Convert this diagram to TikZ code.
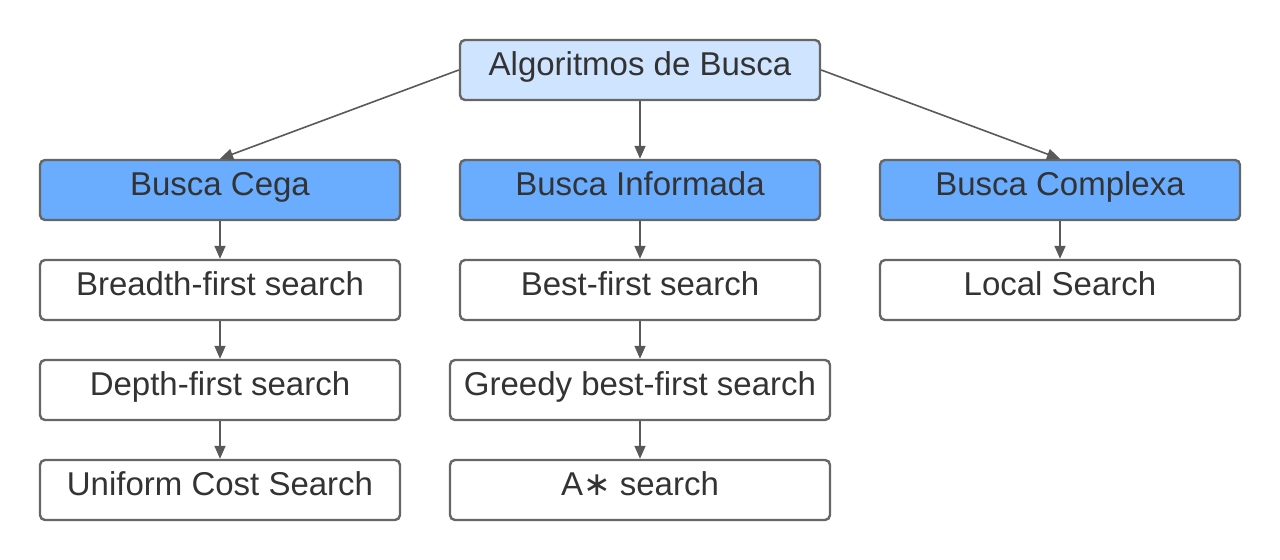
\documentclass[tikz,border=0pt]{standalone}
\usepackage{fontspec}
\setmainfont{Liberation Sans}
\newfontfamily\dejavu{DejaVu Sans}
\usetikzlibrary{arrows.meta}
\definecolor{rootfill}{HTML}{CFE4FF}
\definecolor{catfill}{HTML}{6AADFF}
\definecolor{boxline}{HTML}{666666}
\definecolor{edgecol}{HTML}{595959}
\definecolor{txt}{HTML}{333333}
\begin{document}
\begin{tikzpicture}[x=0.5pt,y=-0.5pt,
  box/.style={draw=boxline, line width=1.2pt, rounded corners=2.5pt, fill=white,
    minimum width=180pt, minimum height=30pt, inner sep=0pt,
    text height=17.7pt, text depth=12.3pt, text=txt, font=\fontsize{16.5}{18}\selectfont},
  wide/.style={minimum width=190pt},
  rootbox/.style={box, fill=rootfill},
  catbox/.style={box, fill=catfill},
  arr/.style={draw=edgecol, line width=0.8pt, -{Triangle[length=6.5pt,width=5.5pt]}}]
\useasboundingbox (0,0) rectangle (1280,560);
\node[rootbox] (root) at (640,70) {Algoritmos de Busca};
\node[catbox] (cega) at (220,190) {Busca Cega};
\node[catbox] (inf) at (640,190) {Busca Informada};
\node[catbox] (comp) at (1060,190) {Busca Complexa};
\node[box] (bfs) at (220,290) {Breadth-first search};
\node[box] (best) at (640,290) {Best-first search};
\node[box] (local) at (1060,290) {Local Search};
\node[box] (dfs) at (220,390) {Depth-first search};
\node[box,wide] (greedy) at (640,390) {Greedy best-first search};
\node[box] (ucs) at (220,490) {Uniform Cost Search};
\node[box,wide] (astar) at (640,490) {A{\dejavu ∗} search};
\draw[arr] (root.west) -- (cega.north);
\draw[arr] (root.south) -- (inf.north);
\draw[arr] (root.east) -- (comp.north);
\draw[arr] (cega) -- (bfs);
\draw[arr] (bfs) -- (dfs);
\draw[arr] (dfs) -- (ucs);
\draw[arr] (inf) -- (best);
\draw[arr] (best) -- (greedy);
\draw[arr] (greedy) -- (astar);
\draw[arr] (comp) -- (local);
\end{tikzpicture}
\end{document}
